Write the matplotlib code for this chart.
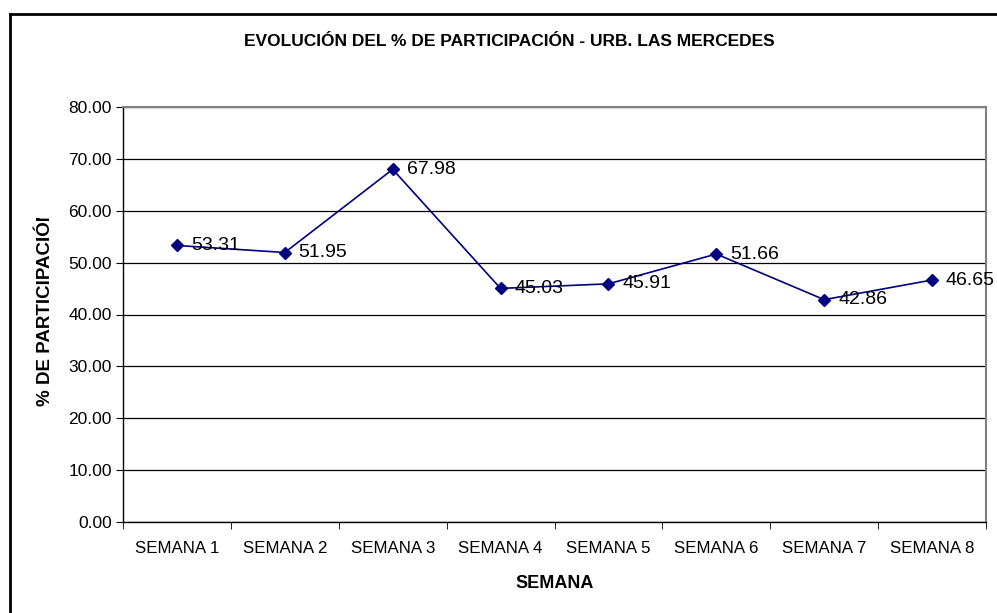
import matplotlib
matplotlib.use("Agg")
import matplotlib.pyplot as plt
from matplotlib.lines import Line2D
from matplotlib.transforms import Bbox, TransformedBbox

plt.rcParams['font.family'] = ['Liberation Sans', 'DejaVu Sans']

# data
semanas = ["SEMANA 1", "SEMANA 2", "SEMANA 3", "SEMANA 4",
           "SEMANA 5", "SEMANA 6", "SEMANA 7", "SEMANA 8"]
participacion = [53.31, 51.95, 67.98, 45.03, 45.91, 51.66, 42.86, 46.65]
y_ticks = [0, 10, 20, 30, 40, 50, 60, 70, 80]

W, H = 997, 613
fig = plt.figure(figsize=(W / 100, H / 100), dpi=100)
fig.patch.set_facecolor("white")

# plot area in pixels: left 123, right 986, top 107, bottom 522
ax = fig.add_axes([123 / W, 1 - 522 / H, (986 - 123) / W, (522 - 107) / H])

x = list(range(len(semanas)))
ax.plot(x, participacion, color="#000080", lw=1.2, marker="D",
        markersize=6, markerfacecolor="#000080", markeredgecolor="#000080",
        zorder=3, clip_on=False)

for xi, v in zip(x, participacion):
    ax.annotate(f"{v:.2f}", (xi, v), textcoords="offset points",
                xytext=(10, 0), ha="left", va="center", fontsize=14,
                color="black", zorder=4, annotation_clip=False)

ax.set_xlim(-0.5, len(semanas) - 0.5)
ax.set_ylim(0, 80)
ax.set_yticks(y_ticks)
ax.set_yticklabels([f"{t:.2f}" for t in y_ticks], fontsize=12.5)
ax.set_xticks(x)
ax.set_xticklabels(semanas, fontsize=12.2)
# category boundary ticks on the x axis
ax.set_xticks([i - 0.5 for i in range(len(semanas) + 1)], minor=True)
ax.tick_params(axis="x", which="major", length=0, pad=14)
ax.tick_params(axis="x", which="minor", length=5, direction="out", color="black")
ax.tick_params(axis="y", length=5, direction="out", color="black", pad=3)

ax.grid(axis="y", color="black", lw=0.9)
ax.set_axisbelow(True)
for side in ["top", "right"]:
    ax.spines[side].set_color("#808080")
    ax.spines[side].set_linewidth(1.5)
for side in ["left", "bottom"]:
    ax.spines[side].set_color("black")
    ax.spines[side].set_linewidth(1.0)

fig.text(509 / W, 1 - 42 / H, "EVOLUCIÓN DEL % DE PARTICIPACIÓN - URB. LAS MERCEDES",
         ha="center", va="center", fontsize=12.5, fontweight="bold")
fig.text(555 / W, 1 - 584 / H, "SEMANA", ha="center", va="center",
         fontsize=13, fontweight="bold")

# y label is cut off at its top end in the original
ylab = fig.text(45 / W, 1 - 307 / H, "% DE PARTICIPACIÓN", ha="center", va="center",
                rotation=90, fontsize=13.5, fontweight="bold")
ylab.set_clip_box(TransformedBbox(Bbox([[0, 0], [1, 1 - 218 / H]]), fig.transFigure))
ylab.set_clip_on(True)

# outer chart border (top and left edges visible)
fig.add_artist(Line2D([10 / W, 1], [1 - 14 / H, 1 - 14 / H], color="black", lw=2,
                      transform=fig.transFigure))
fig.add_artist(Line2D([10 / W, 10 / W], [0, 1 - 14 / H], color="black", lw=2,
                      transform=fig.transFigure))

fig.savefig("out.png", dpi=100)
